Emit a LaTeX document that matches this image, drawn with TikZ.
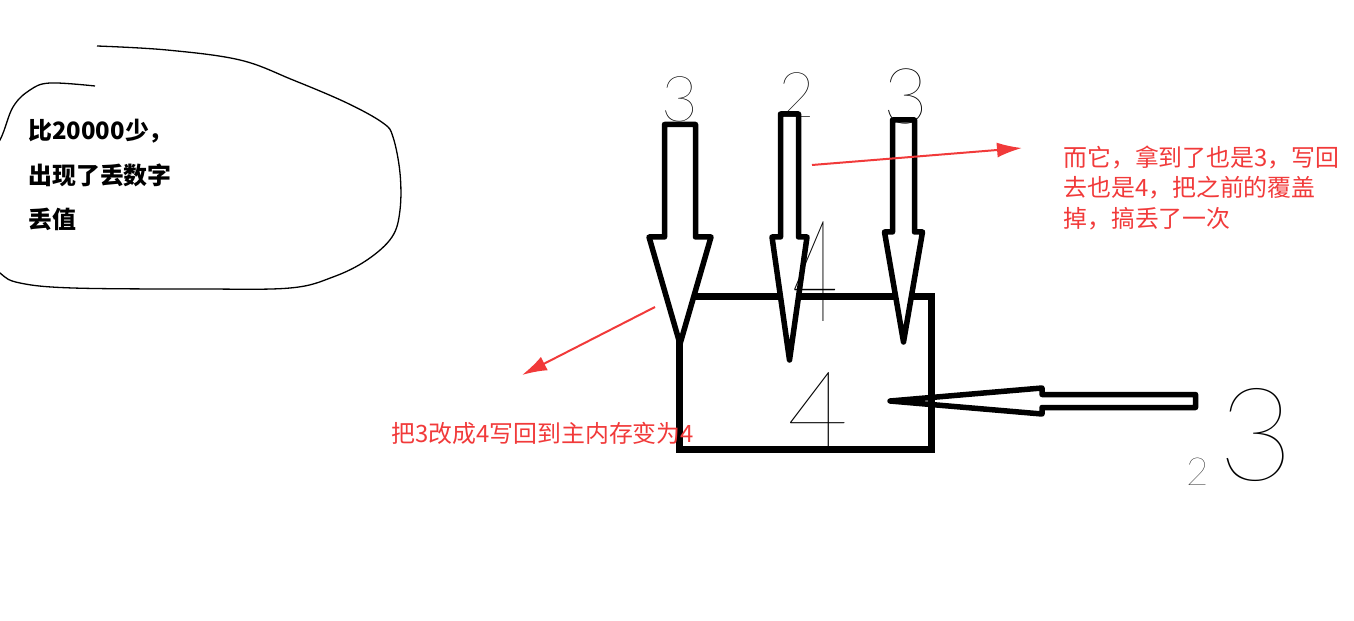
\documentclass[tikz,border=0pt]{standalone}
\usepackage{fontspec}
\newfontfamily\cjk{Noto Sans CJK SC}
\newfontfamily\hand{Lato Hairline}
\usetikzlibrary{arrows.meta}
\definecolor{notered}{RGB}{241,58,58}
\tikzset{
    block arrow/.style={draw,line width=.11cm,line join=round,fill=white},
    hand digit/.style={inner sep=0,font=\hand\fontsize{#1}{#1}\selectfont},
    red note/.style={
        text=notered,align=left,anchor=west,inner sep=0,
        font=\cjk\fontsize{13.6}{17.6}\selectfont
    },
    pointer/.style={notered,line width=.04cm},
    >={Latex[length=.5cm,width=.3cm]}
}
\begin{document}
\begin{tikzpicture}[x=.02cm,y=-.02cm]
\useasboundingbox (0,0) rectangle (1354,621);
\clip (0,0) rectangle (1354,621);
\draw[line width=.026cm] plot[smooth,tension=.6] coordinates {(97,46) (167,50) (240,60) (293,80) (347,103) (383,123) (393,137) (400,173) (400,210) (392,237) (367,260) (333,277) (290,288) (200,289) (73,288) (20,283) (0,273) (-20,250) (-20,170) (0,140) (13,107) (30,90) (50,83) (95,86)};
\node[anchor=west,align=left,inner sep=0,font=\cjk\bfseries\fontsize{13.6}{25.5}\selectfont] (lost) at (28,175) {比20000少，\\出现了丢数字\\丢值};
\node[draw,line width=.14cm,minimum width=5.06cm,minimum height=3.08cm] (mem) at (805.5,373) {};
\foreach \i/\c/\w/\h/\t/\b/\p in {1/680/15.5/31/124.5/237/344,2/789.5/9/17.5/114/237/360,3/903.5/11/19/120/232/342}
    \draw[block arrow] (\c-\w,\t) -- (\c+\w,\t) -- (\c+\w,\b) -- (\c+\h,\b) -- (\c,\p) -- (\c-\h,\b) -- (\c-\w,\b) -- cycle;
\draw[block arrow,fill=none] (1195.5,394.5) -- (1042,394.5) -- (1042,388) -- (890,401) -- (1042,414) -- (1042,407.5) -- (1195.5,407.5) -- cycle;
\node[hand digit=36pt] (read1) at (680,99) {3};
\node[hand digit=36pt] (read2) at (797,95) {2};
\node[hand digit=44pt] (read3) at (906,96) {3};
\node[hand digit=45pt] (write2) at (815,272) {\scalebox{1}[1.8]{4}};
\node[hand digit=60pt] (value) at (818,410) {4};
\node[hand digit=74pt] (read4) at (1256,435) {3};
\node[hand digit=22pt] (read5) at (1198,472) {2};
\node[red note] (note1) at (1063,188) {而它，拿到了也是3，写回\\去也是4，把之前的覆盖\\掉，搞丢了一次};
\node[red note] (note2) at (391,433) {把3改成4写回到主内存变为4};
\coordinate (from2) at (812,165);
\coordinate (to1) at (1022,148);
\coordinate (from1) at (655,307);
\coordinate (to2) at (522,375);
\draw[->,pointer] (from2) -- (to1);
\draw[->,pointer] (from1) -- (to2);
\end{tikzpicture}
\end{document}
